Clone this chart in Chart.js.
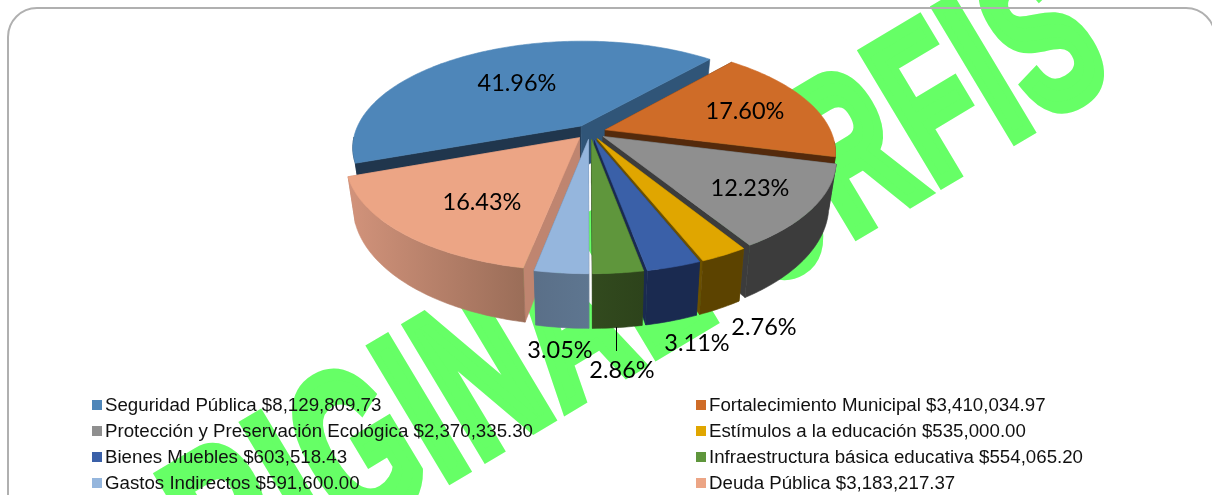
<!DOCTYPE html>
<html>
<head>
<meta charset="utf-8">
<style>
  html, body { margin: 0; padding: 0; background: #fff; overflow: hidden; }
  #wrap { position: relative; width: 1212px; height: 495px; overflow: hidden; }
  #chart { position: absolute; left: 0; top: 0; }
  #frame { position: absolute; left: 7px; top: 7px; width: 1209px; height: 540px; box-sizing: border-box;
           border: 2px solid #b0b0b0; border-radius: 30px; }
  .item { position: absolute; font: 18.7px "Liberation Sans", Arial, sans-serif; color: #111; white-space: nowrap; line-height: 20px; height: 20px; }
  .item i { position: absolute; left: -13px; top: 5px; width: 10px; height: 10px; }
</style>
</head>
<body>
<div id="wrap">
  <canvas id="chart" width="1212" height="495"></canvas>
  <div id="frame"></div>
  <div id="legend"></div>
</div>
<script src="https://cdn.jsdelivr.net/npm/chart.js@4"></script>
<script>
var categories = ['Seguridad Pública', 'Fortalecimiento Municipal', 'Protección y Preservación Ecológica',
  'Estímulos a la educación', 'Bienes Muebles', 'Infraestructura básica educativa', 'Gastos Indirectos', 'Deuda Pública'];
var amounts = [8129809.73, 3410034.97, 2370335.30, 535000.00, 603518.43, 554065.20, 591600.00, 3183217.37];
var percentLabels = ['41.96%', '17.60%', '12.23%', '2.76%', '3.11%', '2.86%', '3.05%', '16.43%'];

var topColors = ['#4e86b9', '#cf6c28', '#8f8f8f', '#e0a600', '#3a60a8', '#5f963c', '#95b6dd', '#eca585'];
var startFaceColors = ['#20364d', '#542a0c', '#3c3c3c', '#6b5000', '#1a2a50', '#2f461c', '#5b7088', '#bf8570'];
var endFaceColors = ['#305578', '#542a0c', '#3c3c3c', '#6b5000', '#1a2a50', '#2f461c', '#5b7088', '#bf8570'];
var wallLeftColors = ['#20364d', '#542a0c', '#3c3c3c', '#5c4300', '#1a2a50', '#324a1e', '#5a6f88', '#d2937b'];
var wallRightColors = ['#20364d', '#542a0c', '#3c3c3c', '#5c4300', '#1a2a50', '#2d431b', '#5e7690', '#9a6d58'];

// centre of each percent label
var labelCentres = [[517, 83], [745, 111], [750, 188], [764, 327], [697, 343], [622, 370], [560, 350], [482, 202]];

// camera for the tilted pie
var cam = { x: 590, y: 132, flat: 104 / 226, persp: 0.2, depth: 43, shrink: 0.03 };

// X in pixels, Y as a fraction of the radius, z 0 = top face, 1 = bottom face
function project(X, Y, z, R) {
  var f = 1 / (1 - cam.persp * Y);
  return { x: cam.x + X * f * (1 - z * cam.shrink), y: cam.y + Y * cam.flat * R * f + z * cam.depth * f };
}

function polygon(ctx, pts, fill) {
  ctx.beginPath();
  pts.forEach(function(p, i) {
    if (i === 0) ctx.moveTo(p.x, p.y); else ctx.lineTo(p.x, p.y);
  });
  ctx.closePath();
  ctx.fillStyle = fill;
  ctx.fill();
  ctx.strokeStyle = fill;
  ctx.lineWidth = 0.6;
  ctx.stroke();
}

// one slice: project the arc element the pie controller laid out
function drawSlice(ctx, el, i) {
  var R = el.outerRadius;
  var mid = (el.startAngle + el.endAngle) / 2;
  var ox = Math.cos(mid) * el.options.offset;
  var oy = Math.sin(mid) * el.options.offset;
  var n = Math.ceil((el.endAngle - el.startAngle) * 180 / Math.PI);
  var rimAngles = [];
  for (var k = 0; k <= n; k++) rimAngles.push(el.startAngle + (el.endAngle - el.startAngle) * k / n);

  function at(r, a, z) {
    var X = r * Math.cos(a) + ox;
    var Y = (r * Math.sin(a) + oy) / R;
    return project(X, Y, z, R);
  }

  polygon(ctx, [at(0, 0, 0), at(R, el.startAngle, 0), at(R, el.startAngle, 1), at(0, 0, 1)], startFaceColors[i]);
  polygon(ctx, [at(0, 0, 0), at(R, el.endAngle, 0), at(R, el.endAngle, 1), at(0, 0, 1)], endFaceColors[i]);

  var front = rimAngles.filter(function(a) { return Math.sin(a) > 0.1; });
  if (front.length > 1) {
    var topEdge = front.map(function(a) { return at(R, a, 0); });
    var lowEdge = front.map(function(a) { return at(R, a, 1); }).reverse();
    var xs = topEdge.concat(lowEdge).map(function(p) { return p.x; });
    var grad = ctx.createLinearGradient(Math.min.apply(null, xs), 0, Math.max.apply(null, xs), 0);
    grad.addColorStop(0, wallLeftColors[i]);
    grad.addColorStop(1, wallRightColors[i]);
    polygon(ctx, topEdge.concat(lowEdge), grad);
  }

  var face = [at(0, 0, 0)].concat(rimAngles.map(function(a) { return at(R, a, 0); }));
  polygon(ctx, face, el.options.backgroundColor);
}

var watermarkPlugin = {
  id: 'watermark',
  beforeDraw: function(chart) {
    var ctx = chart.ctx;
    ctx.save();
    ctx.translate(449, 485);
    ctx.rotate(-31 * Math.PI / 180);
    ctx.scale(0.6, 1);
    ctx.font = 'bold 218px "Liberation Sans", Arial, sans-serif';
    ctx.letterSpacing = '8.5px';
    ctx.fillStyle = '#66ff66';
    ctx.strokeStyle = '#66ff66';
    ctx.lineWidth = 13;
    ctx.lineJoin = 'miter';
    var start = -ctx.measureText('ORIG').width - 8;
    ctx.fillText('ORIGINAL ORFIS', start, -6);
    ctx.strokeText('ORIGINAL ORFIS', start, -6);
    ctx.restore();
  }
};

var tiltedPiePlugin = {
  id: 'tiltedPie',
  beforeDatasetsDraw: function(chart) {
    var ctx = chart.ctx;
    var arcs = chart.getDatasetMeta(0).data;
    var order = arcs.map(function(el, i) { return i; });
    order.sort(function(a, b) {
      return Math.sin((arcs[a].startAngle + arcs[a].endAngle) / 2) - Math.sin((arcs[b].startAngle + arcs[b].endAngle) / 2);
    });
    ctx.save();
    order.forEach(function(i) { drawSlice(ctx, arcs[i], i); });
    ctx.restore();

    ctx.save();
    // leader line of the 2.86% label
    ctx.strokeStyle = '#000';
    ctx.lineWidth = 1;
    ctx.beginPath();
    ctx.moveTo(616.5, 327);
    ctx.lineTo(616.5, 351);
    ctx.stroke();
    ctx.font = '23.5px Lato, sans-serif';
    ctx.fillStyle = '#000';
    ctx.textAlign = 'center';
    ctx.textBaseline = 'middle';
    percentLabels.forEach(function(t, i) {
      ctx.fillText(t, labelCentres[i][0], labelCentres[i][1]);
    });
    ctx.restore();
    return false;
  }
};

var chart = new Chart(document.getElementById('chart').getContext('2d'), {
  type: 'pie',
  data: {
    labels: categories,
    datasets: [{
      data: amounts,
      backgroundColor: topColors,
      borderWidth: 0,
      offset: 16
    }]
  },
  options: {
    responsive: false,
    animation: false,
    radius: 226,
    rotation: -110,
    plugins: { legend: { display: false }, tooltip: { enabled: false } }
  },
  plugins: [watermarkPlugin, tiltedPiePlugin]
});

// legend in two columns, filled across
var legendEl = document.getElementById('legend');
categories.forEach(function(name, i) {
  var item = document.createElement('div');
  item.className = 'item';
  item.style.left = (i % 2 === 0 ? 105 : 709) + 'px';
  item.style.top = (395 + 26 * Math.floor(i / 2)) + 'px';
  var money = amounts[i].toLocaleString('en-US', { minimumFractionDigits: 2, maximumFractionDigits: 2 });
  item.innerHTML = '<i style="background:' + topColors[i] + '"></i>' + name + ' $' + money;
  legendEl.appendChild(item);
});
</script>
</body>
</html>
